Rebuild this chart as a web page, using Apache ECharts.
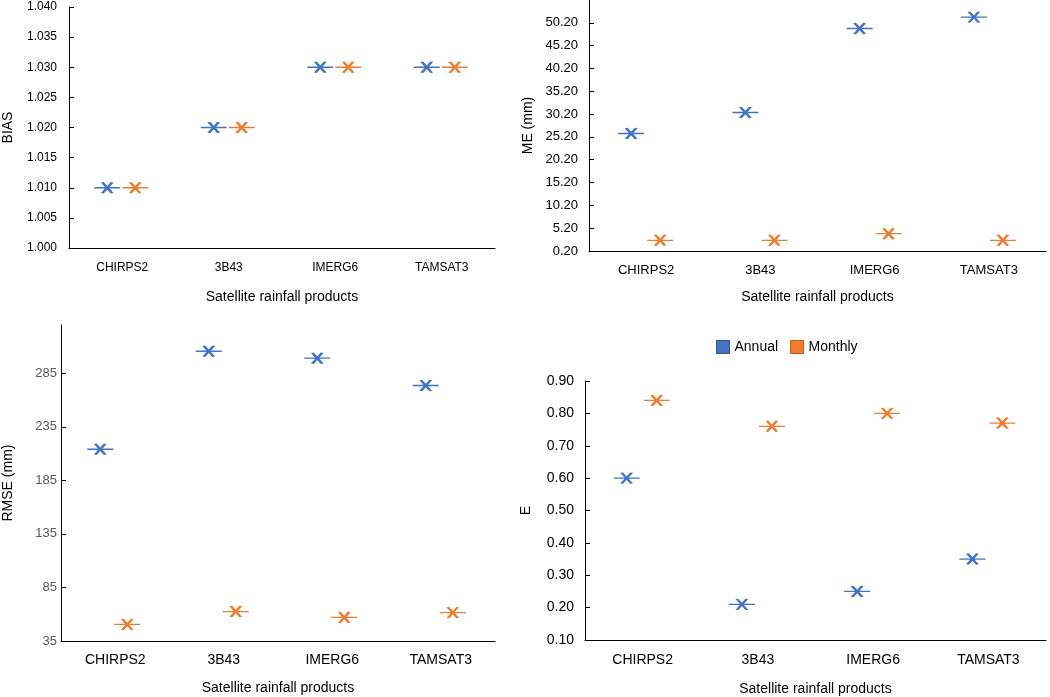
<!DOCTYPE html>
<html><head><meta charset="utf-8">
<script src="https://cdn.jsdelivr.net/npm/echarts@6/dist/echarts.min.js"></script>
<style>html,body{margin:0;padding:0;background:#fff}#c{width:1050px;height:697px}</style>
</head><body><div id="c"></div>
<script>
var categories = ['CHIRPS2', '3B43', 'IMERG6', 'TAMSAT3'];
var biasAnnual = [1.010, 1.020, 1.030, 1.030];
var biasMonthly = [1.010, 1.020, 1.030, 1.030];
var meAnnual = [25.95, 30.55, 48.95, 51.45];
var meMonthly = [2.55, 2.55, 4.0, 2.55];
var rmseAnnual = [214, 305.5, 299, 273.5];
var rmseMonthly = [50.5, 62.5, 57, 61.5];
var eAnnual = [0.60, 0.21, 0.25, 0.35];
var eMonthly = [0.84, 0.76, 0.80, 0.77];

var BLUE = '#4472C4', ORANGE = '#ED7D31';
var FONT = 'Liberation Sans, Arial, sans-serif';
var SYM = 'path://M0,5.5 L26,5.5 M8,0.5 L18,10.5 M18,0.5 L8,10.5';

function xAx(idx, fs, margin, gap) {
  return {
    type: 'category', gridIndex: idx, data: categories,
    name: 'Satellite rainfall products', nameLocation: 'middle', nameGap: gap,
    nameTextStyle: {fontFamily: FONT, fontSize: 14, color: '#000'},
    axisLine: {lineStyle: {color: '#000', width: 1}},
    axisTick: {inside: true, length: 5, lineStyle: {color: '#000'}},
    axisLabel: {fontFamily: FONT, fontSize: fs, color: '#000', margin: margin},
    splitLine: {show: false}
  };
}
function yAx(idx, name, min, max, interval, dec, fs, margin, gap, color, showMax) {
  return {
    type: 'value', gridIndex: idx, min: min, max: max, interval: interval,
    name: name, nameLocation: 'middle', nameGap: gap,
    nameTextStyle: {fontFamily: FONT, fontSize: 14, color: '#000'},
    axisLine: {show: true, lineStyle: {color: '#000', width: 1}},
    axisTick: {show: true, inside: true, length: 5, lineStyle: {color: '#000'}},
    axisLabel: {fontFamily: FONT, fontSize: fs, color: color, margin: margin,
      showMaxLabel: showMax, formatter: function (v) { return v.toFixed(dec); }},
    splitLine: {show: false}
  };
}
function ser(name, idx, data, color, off) {
  return {
    name: name, type: 'scatter', xAxisIndex: idx, yAxisIndex: idx, data: data,
    symbol: SYM, symbolSize: [26, 11], symbolOffset: [off, 0],
    itemStyle: {color: 'transparent', borderColor: color, borderWidth: 2, opacity: 1},
    emphasis: {disabled: true}, silent: true
  };
}

var chart = echarts.init(document.getElementById('c'), null, {renderer: 'canvas'});
chart.setOption({
  animation: false,
  backgroundColor: '#fff',
  legend: {
    left: 711, top: 335, itemWidth: 13, itemHeight: 13, itemGap: 12,
    textStyle: {fontFamily: FONT, fontSize: 14, color: '#000'},
    data: [
      {name: 'Annual', icon: 'rect', itemStyle: {color: BLUE, borderColor: '#2F5597', borderWidth: 1}},
      {name: 'Monthly', icon: 'rect', itemStyle: {color: ORANGE, borderColor: '#C55A11', borderWidth: 1}}
    ],
    selectedMode: false
  },
  grid: [
    {left: 69, right: 555, top: 7, bottom: 449},
    {left: 589, right: 4, top: 0, bottom: 446},
    {left: 59, right: 555, top: 325, bottom: 56},
    {left: 585, right: 4, top: 381, bottom: 57}
  ],
  xAxis: [
    xAx(0, 12, 14, 42),
    xAx(1, 13, 13, 39),
    xAx(2, 14, 12, 40),
    xAx(3, 14, 13, 42)
  ],
  yAxis: [
    yAx(0, 'BIAS', 1.0, 1.04, 0.005, 3, 12, 12, 54, '#000', true),
    yAx(1, 'ME (mm)', 0.2, 55.2, 5, 2, 13, 11, 54, '#000', false),
    yAx(2, 'RMSE (mm)', 35, 330, 50, 0, 13, 4, 46, '#595959', false),
    yAx(3, 'E', 0.1, 0.9, 0.1, 2, 14, 11, 52, '#000', true)
  ],
  series: [
    ser('Annual', 0, biasAnnual, BLUE, -15),
    ser('Monthly', 0, biasMonthly, ORANGE, 13),
    ser('Annual', 1, meAnnual, BLUE, -15),
    ser('Monthly', 1, meMonthly, ORANGE, 14),
    ser('Annual', 2, rmseAnnual, BLUE, -15),
    ser('Monthly', 2, rmseMonthly, ORANGE, 12),
    ser('Annual', 3, eAnnual, BLUE, -16),
    ser('Monthly', 3, eMonthly, ORANGE, 14)
  ]
});
</script></body></html>
